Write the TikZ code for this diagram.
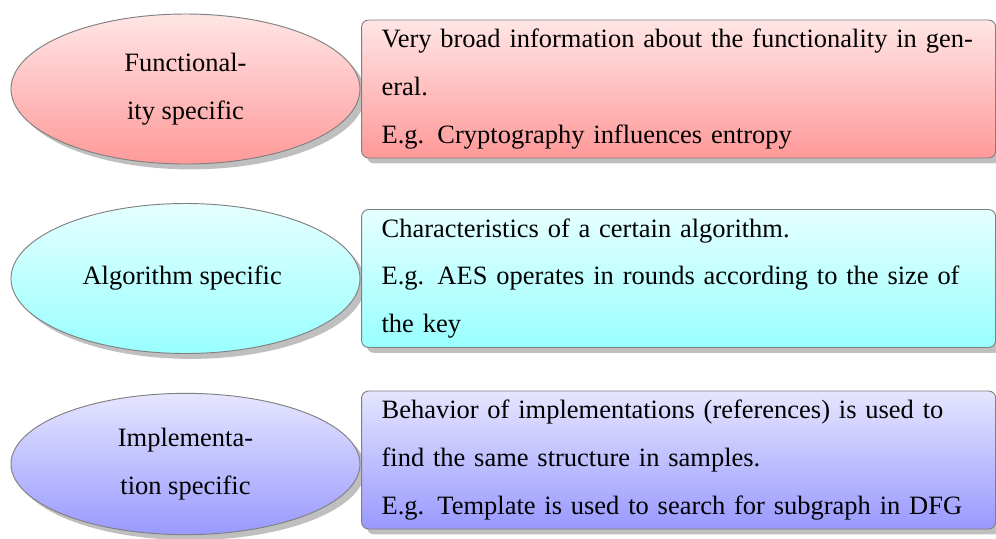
\documentclass[tikz,border=0pt]{standalone}
\usepackage{fontspec}
\setmainfont{Liberation Serif}
\usepackage{xcolor}
\usepackage{tikz}
\usetikzlibrary{positioning, shapes, shadows}

\begin{document}
\begin{tikzpicture}[node distance=2.8425cm,
  topic/.style={draw=black!50, ellipse, inner sep=0pt, minimum width=5.235cm, minimum height=2.25cm,
    align=center, drop shadow, font=\fontsize{11.3}{20.3}\selectfont},
  detail/.style={draw=black!50, rectangle, rounded corners=3pt, text width=8.91cm, inner xsep=0.3cm,
    minimum height=2.07cm, align=left, drop shadow, font=\fontsize{11.3}{20.3}\selectfont}]
  \useasboundingbox (0,0) rectangle (14.94,-8.07);

  \node (func) [topic, top color=red!10, bottom color=red!40] at (2.7825,-1.335) {
    Functional-\\ity specific
  };
  \node (algo) [topic, top color=cyan!10, bottom color=cyan!40, below of=func] {
    Algorithm specific
  };
  \node (impl) [topic, top color=blue!10, bottom color=blue!40, below of=algo, yshift=0.06cm,
    minimum height=2.12cm] {
    Implementa-\\tion specific
  };

  \node (funcinfo) [detail, top color=red!10, bottom color=red!40, right=0.01cm of func] {
    Very broad information about the functionality in gen-\\
    eral.\\
    E.g. Cryptography influences entropy
  };
  \node (algoinfo) [detail, top color=cyan!10, bottom color=cyan!40, right=0.01cm of algo] {
    Characteristics of a certain algorithm.\\
    E.g. AES operates in rounds according to the size of\\
    the key
  };
  \node (implinfo) [detail, top color=blue!10, bottom color=blue!40, right=0.01cm of impl, yshift=0.06cm] {
    Behavior of implementations (references) is used to\\
    find the same structure in samples.\\
    E.g. Template is used to search for subgraph in DFG
  };
\end{tikzpicture}
\end{document}
